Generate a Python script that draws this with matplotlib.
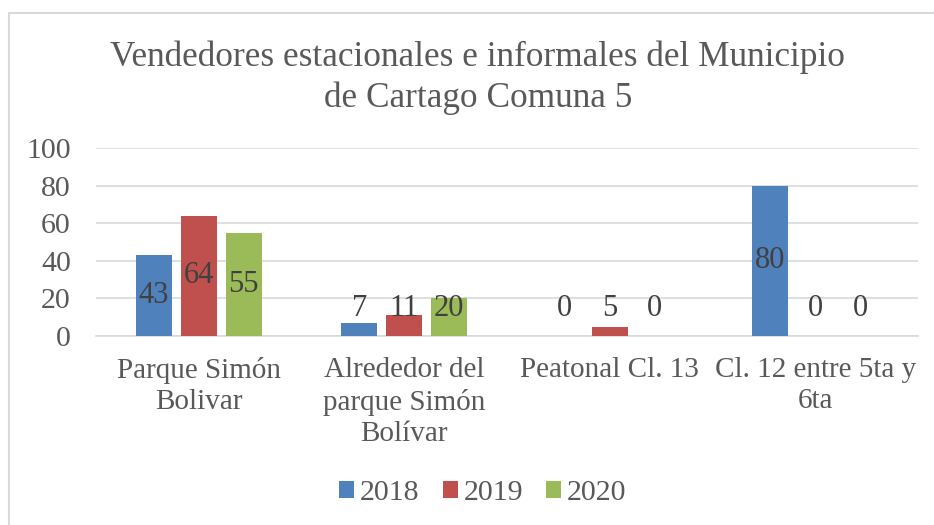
import numpy as np
import matplotlib.pyplot as plt
from matplotlib.patches import Rectangle

# data
categories = ["Parque Simón\nBolivar", "Alrededor del\nparque Simón\nBolívar",
              "Peatonal Cl. 13", "Cl. 12 entre 5ta y\n6ta"]
years = ["2018", "2019", "2020"]
v2018 = [43, 7, 0, 80]
v2019 = [64, 11, 5, 0]
v2020 = [55, 20, 0, 0]
series = [v2018, v2019, v2020]
colors = ["#4F81BD", "#C0504D", "#9BBB59"]

plt.rcParams['font.family'] = ['Liberation Serif', 'DejaVu Serif']

fig = plt.figure(figsize=(9.34, 5.25), dpi=100)
ax = fig.add_axes([96 / 934, 1 - 336 / 525, 822 / 934, 188 / 525])

# chart border
fig.patches.append(Rectangle((9 / 934, -0.1), 1.2, 1 - 13 / 525 + 0.1,
                             transform=fig.transFigure, fill=False,
                             edgecolor="#D9D9D9", linewidth=1.5))

x = np.arange(len(categories))
width = 0.175
step = 0.219
for i, (vals, col, yr) in enumerate(zip(series, colors, years)):
    pos = x + (i - 1) * step
    ax.bar(pos, vals, width, color=col, label=yr, zorder=3)
    for p, v in zip(pos, vals):
        ax.text(p, max(v / 2, 14.5), str(v), ha="center", va="center",
                fontsize=22, color="#404040", zorder=4)

ax.set_xlim(-0.5, len(categories) - 0.5)
ax.set_ylim(0, 100)
ax.set_yticks(range(0, 101, 20))
ax.grid(axis="y", color="#D9D9D9", linewidth=1.2, zorder=0)
for s in ["top", "right", "left"]:
    ax.spines[s].set_visible(False)
ax.spines["bottom"].set_color("#D9D9D9")
ax.spines["bottom"].set_linewidth(1.2)
ax.tick_params(length=0, colors="#595959")
ax.tick_params(axis="y", labelsize=21.5, pad=18)
ax.set_xticks(x)
ax.set_xticklabels(categories, linespacing=1.28)
ax.tick_params(axis="x", labelsize=21, pad=15)

fig.text(478 / 934, 1 - 78 / 525, "Vendedores estacionales e informales del Municipio\nde Cartago Comuna 5",
         ha="center", va="center", fontsize=25.4, color="#595959", linespacing=1.29)

fig.legend(loc="center", bbox_to_anchor=(0.517, 1 - 493 / 525), ncol=3, frameon=False,
           fontsize=21.5, labelcolor="#595959", handlelength=0.5, handleheight=0.5,
           handletextpad=0.2, columnspacing=0.77)

fig.savefig("out.png", dpi=100)
